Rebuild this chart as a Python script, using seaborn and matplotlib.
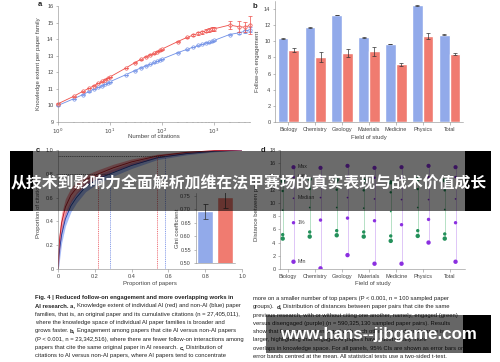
import matplotlib
matplotlib.use('Agg')

import matplotlib.pyplot as plt
from matplotlib import font_manager
from matplotlib.patches import Rectangle
import pandas as pd
import seaborn as sns

W, H = 500, 362

# panel a: knowledge extent per paper family
citations = [1, 2, 3, 4, 5, 6, 7, 8, 9, 10, 20, 30, 40, 50, 60, 70, 80, 90, 100,
             200, 300, 400, 500, 600, 700, 800, 900, 1000, 2000, 3000, 4000, 5000]
ai_extent = [10.1, 10.55, 10.85, 11.05, 11.2, 11.35, 11.45, 11.55, 11.65, 11.72, 12.25, 12.58,
             12.8, 12.95, 13.05, 13.15, 13.25, 13.32, 13.4, 13.85, 14.1, 14.25, 14.35, 14.42,
             14.5, 14.55, 14.6, 14.62, 14.85, 14.75, 14.72, 14.85]
ai_extent_err = [0.02, 0.02, 0.02, 0.02, 0.02, 0.02, 0.02, 0.02, 0.02, 0.02, 0.02, 0.02,
                 0.03, 0.03, 0.03, 0.03, 0.03, 0.03, 0.03, 0.04, 0.05, 0.06, 0.07, 0.08,
                 0.09, 0.1, 0.11, 0.12, 0.25, 0.32, 0.3, 0.55]
nonai_extent = [10.0, 10.4, 10.65, 10.85, 11.0, 11.1, 11.2, 11.3, 11.37, 11.43, 11.85, 12.1,
                12.28, 12.4, 12.5, 12.6, 12.67, 12.75, 12.8, 13.18, 13.38, 13.52, 13.62, 13.7,
                13.77, 13.82, 13.88, 13.92, 14.28, 14.38, 14.48, 14.58]
nonai_extent_err = [0.01, 0.01, 0.01, 0.01, 0.01, 0.01, 0.01, 0.01, 0.01, 0.01, 0.01, 0.01,
                    0.01, 0.01, 0.01, 0.01, 0.01, 0.01, 0.01, 0.02, 0.02, 0.02, 0.02, 0.02,
                    0.03, 0.03, 0.03, 0.03, 0.05, 0.08, 0.1, 0.15]

# panel b: follow-on engagement by field
fields = ['Biology', 'Chemistry', 'Geology', 'Materials', 'Medicine', 'Physics', 'Total']
nonai_engagement = [10.38, 11.73, 13.27, 10.5, 9.68, 14.45, 10.82]
nonai_engagement_err = [0.04, 0.04, 0.04, 0.04, 0.04, 0.04, 0.04]
ai_engagement = [8.92, 8.02, 8.6, 8.75, 7.17, 10.68, 8.42]
ai_engagement_err = [0.25, 0.6, 0.5, 0.6, 0.2, 0.4, 0.15]

# panel c: cumulative share of citations
prop_papers = [0, 0.005, 0.01, 0.02, 0.04, 0.07, 0.1, 0.15, 0.22, 0.3, 0.4, 0.54, 0.7, 0.85, 1.0]
ai_cum = [0, 0.17, 0.27, 0.39, 0.52, 0.62, 0.68, 0.75, 0.8, 0.85, 0.9, 0.95, 0.98, 0.995, 1.0]
ai_cum_band = [0, 0.09, 0.09, 0.08, 0.07, 0.06, 0.05, 0.04, 0.035, 0.03, 0.025, 0.015, 0.01, 0.005, 0]
nonai_cum = [0, 0.11, 0.18, 0.29, 0.42, 0.53, 0.6, 0.69, 0.76, 0.81, 0.87, 0.935, 0.97, 0.99, 1.0]
nonai_cum_band = [0, 0.08, 0.08, 0.07, 0.06, 0.05, 0.045, 0.04, 0.035, 0.03, 0.025, 0.015, 0.01, 0.005, 0]
cut_levels = [0.8, 0.95]
ai_cut_x = [0.22, 0.54]
nonai_cut_x = [0.28, 0.58]
gini_groups = ['Non-AI', 'AI']
gini_values = [0.692, 0.745]
gini_err = [0.027, 0.04]

# panel d: distance between paper pairs
stat_names = ['Max', '99%', 'Median', '1%', 'Min']
engaged_max = [13.3, 13.6, 13.5, 13.4, 13.1, 13.6, 13.4]
engaged_p99 = [11.8, 12.1, 12.0, 11.9, 11.6, 12.1, 11.9]
engaged_median = [8.9, 9.3, 9.3, 9.2, 8.7, 9.3, 9.0]
engaged_p1 = [5.2, 5.6, 5.8, 5.6, 5.0, 5.8, 5.3]
engaged_min = [4.6, 4.9, 5.1, 4.9, 4.25, 5.0, 4.6]
disengaged_max = [15.4, 15.3, 15.6, 15.3, 15.4, 15.6, 15.4]
disengaged_p99 = [13.9, 13.9, 14.0, 13.8, 13.8, 13.9, 13.9]
disengaged_median = [10.7, 10.8, 10.8, 10.6, 10.5, 10.5, 10.6]
disengaged_p1 = [7.0, 7.4, 7.7, 7.3, 6.7, 7.5, 7.0]
disengaged_min = [1.1, 0.1, 2.1, 0.8, 0.8, 4.0, 1.1]

banner_text = '从技术到影响力全面解析加维在法甲赛场的真实表现与战术价值成长'
watermark_text = 'www.hans--jjbgame.com'

caption_left = [
    [('Fig. 4 | Reduced follow-on engagement and more overlapping works in', True)],
    [('AI research. a,', True), ('Knowledge extent of individual AI (red) and non-AI (blue) paper', False)],
    [('families, that is, an original paper and its cumulative citations (n = 27,405,011),', False)],
    [('where the knowledge space of individual AI paper families is broader and', False)],
    [('grows faster.', False), ('b,', True), ('Engagement among papers that cite AI versus non-AI papers', False)],
    [('(P < 0.001, n = 23,342,516), where there are fewer follow-on interactions among', False)],
    [('papers that cite the same original paper in AI research.', False), ('c,', True), ('Distribution of', False)],
    [('citations to AI versus non-AI papers, where AI papers tend to concentrate', False)],
]
caption_right = [
    [('more on a smaller number of top papers (P < 0.001, n = 100 sampled paper', False)],
    [('groups).', False), ('d,', True), ('Distribution of distances between paper pairs that cite the same', False)],
    [('previous research, with or without citing one another, namely, engaged (green)', False)],
    [('versus disengaged (purple) (n = 590,325,130 sampled paper pairs). Results', False)],
    [('show that for papers not engaged with each other, the median distance is', False)],
    [('larger, highlighting that engaged AI papers have substantially more', False)],
    [('overlaps in knowledge space. For all panels, 95% CIs are shown as error bars or', False)],
    [('error bands centred at the mean. All statistical tests use a two-sided t-test.', False)],
]

RED = '#ee4f4a'
BLUE = '#6f8fe6'
BAR_BLUE = '#92aaea'
BAR_RED = '#f07b70'
GREEN = '#23905a'
PURPLE = '#8b2fe0'

sns.set_style('ticks')
plt.rcParams['font.family'] = ['Liberation Sans', 'DejaVu Sans']
plt.rcParams.update({
    'axes.linewidth': 0.4, 'axes.edgecolor': '#8a8a8a',
    'xtick.major.width': 0.4, 'ytick.major.width': 0.4,
    'xtick.minor.width': 0.3, 'ytick.minor.width': 0.3,
    'xtick.major.size': 1.8, 'ytick.major.size': 1.8,
    'xtick.minor.size': 1.0, 'ytick.minor.size': 1.0,
    'xtick.major.pad': 1.5, 'ytick.major.pad': 1.5,
    'xtick.labelsize': 4, 'ytick.labelsize': 4, 'axes.labelsize': 4.3,
    'xtick.color': '#8a8a8a', 'ytick.color': '#8a8a8a',
    'xtick.labelcolor': '#444444', 'ytick.labelcolor': '#444444',
    'axes.labelcolor': '#444444',
})


def box(left, top, right, bottom):
    return [left / W, 1 - bottom / H, (right - left) / W, (bottom - top) / H]


def style(ax, xlabel, ylabel, xl, yl):
    sns.despine(ax=ax)
    ax.set_xlabel(xlabel)
    ax.set_ylabel(ylabel)
    ax.xaxis.set_label_coords(0.5, xl)
    ax.yaxis.set_label_coords(yl, 0.5)


fig = plt.figure(figsize=(W / 100, H / 100), dpi=100)
fig.patch.set_facecolor('white')

# ---------------- a
ax_a = fig.add_axes(box(58, 6, 250.3, 122))
for vals, errs, col in [(nonai_extent, nonai_extent_err, BLUE), (ai_extent, ai_extent_err, RED)]:
    sns.lineplot(x=citations, y=vals, color=col, lw=0.6, marker='o', markersize=2.4,
                 markerfacecolor='white', markeredgecolor=col, markeredgewidth=0.5,
                 ax=ax_a, clip_on=False)
    ax_a.errorbar(citations, vals, yerr=errs, fmt='none', ecolor=col, elinewidth=0.5,
                  capsize=1.2, capthick=0.5, clip_on=False)
ax_a.set_xscale('log')
ax_a.set_xlim(1, 5000)
ax_a.set_ylim(9, 16)
ax_a.set_yticks(range(9, 17))
ax_a.set_xticks([1, 10, 100, 1000])
ax_a.set_xticklabels([r'$10^0$', r'$10^1$', r'$10^2$', r'$10^3$'])
style(ax_a, 'Number of citations', 'Knowledge extent per paper family', -0.105, -0.09)

# ---------------- b
ax_b = fig.add_axes(box(275, 1, 463, 122))
df_b = pd.DataFrame({
    'field': fields * 2,
    'group': ['Non-AI'] * len(fields) + ['AI'] * len(fields),
    'value': nonai_engagement + ai_engagement,
})
sns.barplot(data=df_b, x='field', y='value', hue='group', hue_order=['Non-AI', 'AI'],
            palette={'Non-AI': BAR_BLUE, 'AI': BAR_RED}, saturation=1, width=0.8,
            errorbar=None, legend=False, ax=ax_b)
for cont, errs in zip(ax_b.containers, [nonai_engagement_err, ai_engagement_err]):
    xs = [p.get_x() + p.get_width() / 2 for p in cont]
    ys = [p.get_height() for p in cont]
    ax_b.errorbar(xs, ys, yerr=errs, fmt='none', ecolor='#333333', elinewidth=0.5,
                  capsize=1.3, capthick=0.5)
ax_b.set_xlim(-0.5, 6.5)
ax_b.set_ylim(0, 15)
ax_b.set_yticks(range(0, 15, 2))
style(ax_b, 'Field of study', 'Follow-on engagement', -0.11, -0.082)

# ---------------- c
ax_c = fig.add_axes(box(58, 150, 242, 269))
for cum, band, line_col, band_col in [(nonai_cum, nonai_cum_band, '#1d3c9c', '#3d6cf0'),
                                      (ai_cum, ai_cum_band, '#b0121f', '#f02a35')]:
    lo = [c - b for c, b in zip(cum, band)]
    hi = [min(c + b, 1.0) for c, b in zip(cum, band)]
    ax_c.fill_between(prop_papers, lo, hi, color=band_col, alpha=0.45, lw=0)
    sns.lineplot(x=prop_papers, y=cum, color=line_col, lw=0.6, ax=ax_c)
for lvl, xa, xn in zip(cut_levels, ai_cut_x, nonai_cut_x):
    ax_c.plot([0, xn], [lvl, lvl], color='#333333', lw=0.5, ls=(0, (1.5, 1.2)))
    ax_c.plot([xa, xa], [0, lvl], color='#e8404a', lw=0.5, ls=(0, (1.5, 1.2)))
    ax_c.plot([xn, xn], [0, lvl], color='#5a78e0', lw=0.5, ls=(0, (1.5, 1.2)))
ax_c.set_xlim(0, 1)
ax_c.set_ylim(0, 1)
ax_c.set_xticks([0, 0.2, 0.4, 0.6, 0.8, 1.0])
ax_c.set_xticklabels(['0', '0.2', '0.4', '0.6', '0.8', '1.0'])
ax_c.set_yticks([0, 0.2, 0.4, 0.6, 0.8, 1.0])
ax_c.set_yticklabels(['0', '0.2', '0.4', '0.6', '0.8', '1.0'])
style(ax_c, 'Proportion of papers', 'Proportion of citations', -0.105, -0.095)

ax_in = fig.add_axes(box(195.5, 193, 234.5, 263))
sns.barplot(x=gini_groups, y=gini_values, hue=gini_groups,
            palette={'Non-AI': BAR_BLUE, 'AI': BAR_RED}, saturation=1, width=0.8,
            legend=False, ax=ax_in)
ax_in.errorbar([0, 1], gini_values, yerr=gini_err, fmt='none', ecolor='#333333',
               elinewidth=0.5, capsize=1.8, capthick=0.5)
ax_in.set_ylim(0.5, 0.76)
ax_in.set_xlim(-0.5, 1.5)
ax_in.set_yticks([0.5, 0.55, 0.6, 0.65, 0.7, 0.75])
ax_in.set_yticklabels(['0.50', '0.55', '0.60', '0.65', '0.70', '0.75'])
ax_in.set_xticks([])
style(ax_in, '', 'Gini coefficient', -0.1, -0.41)

# ---------------- d
ax_d = fig.add_axes(box(280, 150, 465, 269))
stats_e = [engaged_max, engaged_p99, engaged_median, engaged_p1, engaged_min]
stats_p = [disengaged_max, disengaged_p99, disengaged_median, disengaged_p1, disengaged_min]
rows = []
for grp, stats, off in [('engaged', stats_e, -0.2), ('disengaged', stats_p, 0.2)]:
    for name, vals in zip(stat_names, stats):
        for i, v in enumerate(vals):
            rows.append({'pos': i + off, 'dist': v, 'stat': name, 'group': grp})
df_d = pd.DataFrame(rows)
for grp, line_col in [('engaged', '#a9dcbc'), ('disengaged', '#d9bdf6')]:
    sub = df_d[df_d['group'] == grp]
    span = sub.groupby('pos')['dist'].agg(['min', 'max'])
    ax_d.vlines(span.index, span['min'], span['max'], color=line_col, lw=0.6, zorder=1)
sns.scatterplot(data=df_d, x='pos', y='dist', hue='group', size='stat',
                palette={'engaged': GREEN, 'disengaged': PURPLE},
                sizes={'Max': 9, '99%': 3, 'Median': 1.5, '1%': 6, 'Min': 10},
                linewidth=0, legend=False, ax=ax_d, zorder=2)
for name, v in zip(stat_names, [s[0] for s in stats_p]):
    ax_d.annotate(name, (0.2, v), xytext=(3, 0.5), textcoords='offset points',
                  fontsize=3.8, color='#444444', va='center')
ax_d.set_xticks(range(len(fields)))
ax_d.set_xticklabels(fields)
ax_d.set_xlim(-0.3, 6.55)
ax_d.set_ylim(0, 18)
ax_d.set_yticks(range(0, 19, 2))
style(ax_d, 'Field of study', 'Distance between pairs', -0.105, -0.111)

# ---------------- overlay: panel letters, caption, banner, watermark
ov = fig.add_axes([0, 0, 1, 1], zorder=10)
ov.set_xlim(0, W)
ov.set_ylim(H, 0)
ov.axis('off')

for letter, (lx, ly) in zip('abcd', [(40, 5), (255, 6), (38, 151), (263, 151)]):
    ov.text(lx, ly, letter, fontsize=5.5, fontweight='bold', color='#222222',
            ha='center', va='center')

names = {f.name for f in font_manager.fontManager.ttflist}
if 'Liberation Sans Narrow' in names:
    cap_family, cap_size = 'Liberation Sans Narrow', 4.6
else:
    cap_family, cap_size = 'Liberation Sans', 4.2


def rich_line(x, y, segments):
    prev = None
    for txt, bold in segments:
        kw = dict(fontsize=cap_size, family=cap_family, color='#222222',
                  fontweight='bold' if bold else 'normal', ha='left', va='bottom', zorder=1)
        if prev is None:
            prev = ov.text(x, y, txt, **kw)
        else:
            prev = ov.annotate(txt, xy=(1, 0), xycoords=prev, xytext=(cap_size * 0.28, 0),
                               textcoords='offset points', **kw)


for i, segs in enumerate(caption_left):
    rich_line(35, 300 + 8.3 * i, segs)
for i, segs in enumerate(caption_right):
    rich_line(253, 301 + 8.3 * i, segs)

ov.add_patch(Rectangle((10, 151), 481, 60, color='black', alpha=0.58, lw=0, zorder=5))
ov.add_patch(Rectangle((10, 151), 23, 60, color='black', lw=0, zorder=5))
ov.add_patch(Rectangle((465, 151), 26, 60, color='black', lw=0, zorder=5))
ov.text(249, 182, banner_text, family=['Noto Sans CJK SC', 'DejaVu Sans'], fontsize=11.4,
        fontweight='bold', color='white', ha='center', va='center', zorder=6)

ov.add_patch(Rectangle((266, 315), 225, 38, color='black', alpha=0.6, lw=0, zorder=5))
ov.add_patch(Rectangle((463, 315), 28, 38, color='black', lw=0, zorder=5))
ov.text(378, 335, watermark_text, family=['Liberation Sans', 'DejaVu Sans'], fontsize=12.2,
        fontweight='bold', color='white', ha='center', va='center', zorder=6)

fig.savefig('out.png', dpi=100)
